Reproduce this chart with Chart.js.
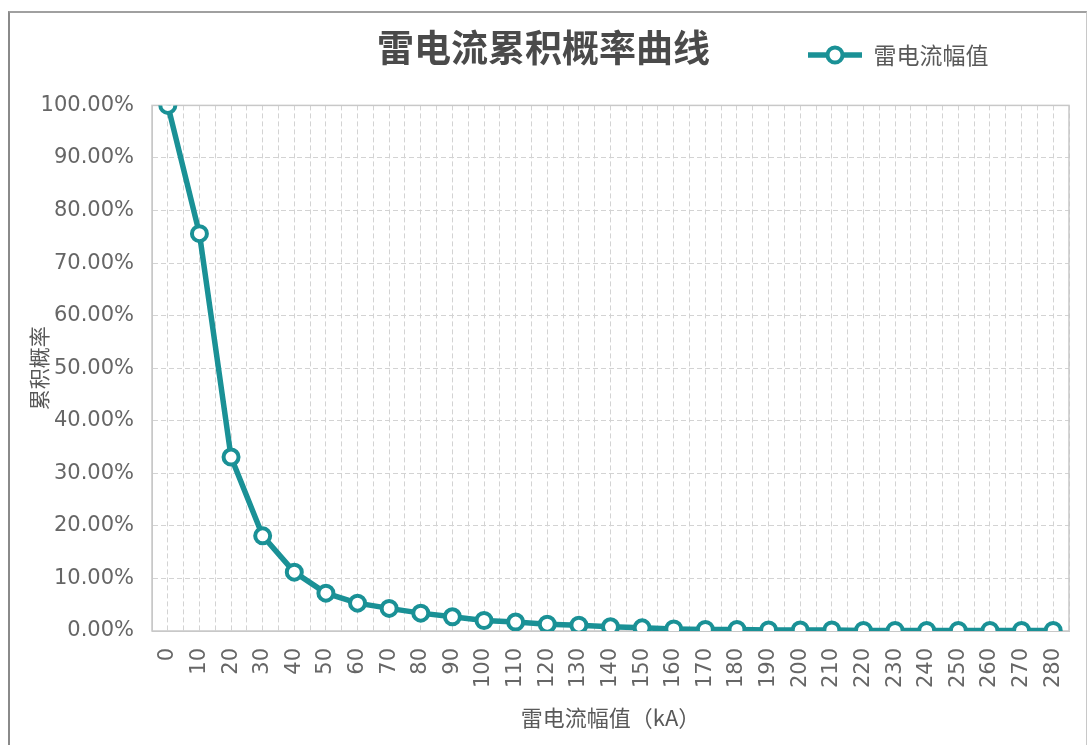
<!DOCTYPE html>
<html>
<head>
<meta charset="utf-8">
<script src="https://cdn.jsdelivr.net/npm/chart.js@4"></script>
<style>
  html, body { margin: 0; padding: 0; background: #fff; }
  #wrap { position: relative; width: 1088px; height: 745px; }
  #frame {
    position: absolute; left: 8px; top: 11px; width: 1076px; height: 732px;
    border-left: 2px solid #8a8a8a; border-top: 2px solid #a0a0a0;
    border-right: 1px solid #c8c8c8; border-bottom: 1px solid #e0e0e0;
    pointer-events: none;
  }
</style>
</head>
<body>
<div id="wrap">
  <canvas id="c"></canvas>
  <div id="frame"></div>
</div>
<script>
const currents = [0, 10, 20, 30, 40, 50, 60, 70, 80, 90, 100, 110, 120, 130, 140,
  150, 160, 170, 180, 190, 200, 210, 220, 230, 240, 250, 260, 270, 280];
const probabilities = [1.0, 0.756, 0.331, 0.181, 0.112, 0.072, 0.053, 0.043, 0.034, 0.027,
  0.020, 0.017, 0.013, 0.011, 0.008, 0.006, 0.004, 0.003, 0.003, 0.002,
  0.002, 0.002, 0.001, 0.001, 0.001, 0.001, 0.001, 0.001, 0.001];
const seriesName = "雷电流幅值";
const chartTitle = "雷电流累积概率曲线";
const xTitle = "雷电流幅值（kA）";
const yTitle = "累积概率";

const TEAL = "#1a9196";
const CJK = "'Noto Sans CJK SC', 'DejaVu Sans', sans-serif";
const NUM = "'DejaVu Sans', 'Noto Sans CJK SC', sans-serif";

// legend symbol: line with hollow circle
const sym = document.createElement("canvas");
sym.width = 54; sym.height = 22;
{
  const g = sym.getContext("2d");
  g.strokeStyle = TEAL;
  g.lineWidth = 5.5;
  g.beginPath(); g.moveTo(0, 11); g.lineTo(54, 11); g.stroke();
  g.fillStyle = "#fff";
  g.lineWidth = 4;
  g.beginPath(); g.arc(27, 11, 7.5, 0, Math.PI * 2); g.fill(); g.stroke();
}

const LEGEND_LEFT = 808;
const LEGEND_MID_Y = 55;

const frameAndLegend = {
  id: "frameAndLegend",
  afterLayout(chart) {
    const lg = chart.legend;
    const pad = lg.options.labels.padding;
    const itemW = lg.lineWidths[0];
    const dx = LEGEND_LEFT - (lg.right - itemW);
    const dy = LEGEND_MID_Y - (lg.top + pad + lg.options.labels.font.size / 2);
    lg.left += dx; lg.right += dx; lg.top += dy; lg.bottom += dy;
  },
  beforeDatasetsDraw(chart) {
    const { ctx, chartArea: a } = chart;
    ctx.save();
    ctx.strokeStyle = "#c8c8c8";
    ctx.lineWidth = 1.5;
    ctx.strokeRect(a.left, a.top, a.right - a.left, a.bottom - a.top);
    ctx.restore();
  }
};

new Chart(document.getElementById("c"), {
  type: "line",
  data: {
    datasets: [{
      label: seriesName,
      data: currents.map((x, i) => ({ x: x, y: probabilities[i] })),
      borderColor: TEAL,
      backgroundColor: "#fff",
      borderWidth: 5.5,
      pointRadius: 7.5,
      pointBorderWidth: 4,
      pointBackgroundColor: "#fff",
      pointBorderColor: TEAL,
      pointStyle: "circle",
      tension: 0,
      fill: false
    }]
  },
  options: {
    responsive: true,
    maintainAspectRatio: false,
    animation: false,
    layout: { padding: { left: 18, right: 19, top: 0, bottom: 8 } },
    plugins: {
      title: {
        display: true,
        text: chartTitle,
        color: "#4a4a4a",
        font: { family: CJK, size: 37, weight: "bold", lineHeight: 1.2 },
        padding: { top: 26, bottom: 0 }
      },
      legend: {
        display: true,
        position: "top",
        align: "end",
        labels: {
          usePointStyle: true,
          pointStyle: sym,
          pointStyleWidth: 54,
          padding: 2,
          color: "#595959",
          font: { family: CJK, size: 23 },
          generateLabels: (chart) => [{
            text: seriesName,
            pointStyle: sym,
            fillStyle: "#fff",
            strokeStyle: TEAL,
            lineWidth: 0,
            fontColor: "#595959",
            datasetIndex: 0
          }]
        }
      },
      tooltip: { enabled: false }
    },
    scales: {
      x: {
        type: "linear",
        min: -5,
        max: 285,
        afterFit: (scale) => {
          scale.height = 106;
          scale.paddingLeft = 0;
          scale.paddingRight = 0;
        },
        ticks: {
          stepSize: 5,
          maxTicksLimit: 100,
          autoSkip: false,
          minRotation: 90,
          maxRotation: 90,
          padding: 17,
          color: "#666",
          font: { family: NUM, size: 21 },
          callback: (v) => (v >= 0 && v <= 280 && v % 10 === 0) ? String(v) : ""
        },
        grid: {
          color: "#d3d3d3",
          lineWidth: 1,
          drawTicks: false
        },
        border: { display: true, color: "#c8c8c8", dash: [5, 3], width: 1 },
        title: {
          display: true,
          text: xTitle,
          color: "#595959",
          font: { family: CJK, size: 22, lineHeight: 1.2 },
          padding: { top: 0, bottom: 6 }
        }
      },
      y: {
        min: 0,
        max: 1,
        afterFit: (scale) => { scale.width = 134; },
        ticks: {
          stepSize: 0.1,
          padding: 18,
          color: "#666",
          font: { family: NUM, size: 21 },
          callback: (v) => (v * 100).toFixed(2) + "%"
        },
        grid: {
          color: "#d3d3d3",
          lineWidth: 1,
          drawTicks: false
        },
        border: { display: true, color: "#c8c8c8", dash: [5, 3], width: 1 },
        title: {
          display: true,
          text: yTitle,
          color: "#595959",
          font: { family: CJK, size: 21, lineHeight: 1.2 },
          padding: { top: 8, bottom: 0 }
        }
      }
    }
  },
  plugins: [frameAndLegend]
});
</script>
</body>
</html>
